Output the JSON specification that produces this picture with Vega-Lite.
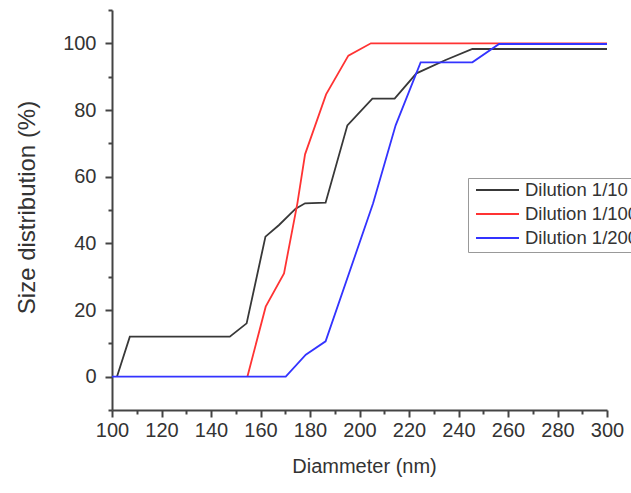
{
  "$schema": "https://vega.github.io/schema/vega-lite/v6.json",
  "width": 495,
  "height": 400,
  "autosize": "none",
  "padding": {"left": 112, "top": 10, "right": 24, "bottom": 83},
  "background": "white",
  "config": {
    "view": {"stroke": null},
    "font": "Liberation Sans",
    "axis": {"grid": false, "domainColor": "#444", "domainWidth": 2, "tickColor": "#444", "tickWidth": 2, "labelColor": "#333", "titleColor": "#333", "labelFont": "Liberation Sans", "titleFont": "Liberation Sans", "titleFontWeight": "normal", "labelFlush": false, "labelOverlap": false}
  },
  "data": {"values": [
    {"d": 102, "p": 0, "s": "Dilution 1/10"},
    {"d": 107.2, "p": 12, "s": "Dilution 1/10"},
    {"d": 147.6, "p": 12, "s": "Dilution 1/10"},
    {"d": 154.4, "p": 16, "s": "Dilution 1/10"},
    {"d": 162, "p": 42, "s": "Dilution 1/10"},
    {"d": 167.5, "p": 45.5, "s": "Dilution 1/10"},
    {"d": 174.2, "p": 50.4, "s": "Dilution 1/10"},
    {"d": 178, "p": 52, "s": "Dilution 1/10"},
    {"d": 186.3, "p": 52.2, "s": "Dilution 1/10"},
    {"d": 195.1, "p": 75.4, "s": "Dilution 1/10"},
    {"d": 205.2, "p": 83.4, "s": "Dilution 1/10"},
    {"d": 214.2, "p": 83.4, "s": "Dilution 1/10"},
    {"d": 223, "p": 91, "s": "Dilution 1/10"},
    {"d": 234.8, "p": 95, "s": "Dilution 1/10"},
    {"d": 245.6, "p": 98.3, "s": "Dilution 1/10"},
    {"d": 300, "p": 98.3, "s": "Dilution 1/10"},
    {"d": 154.7, "p": 0, "s": "Dilution 1/100"},
    {"d": 162.1, "p": 21, "s": "Dilution 1/100"},
    {"d": 169.5, "p": 31, "s": "Dilution 1/100"},
    {"d": 174.9, "p": 52, "s": "Dilution 1/100"},
    {"d": 178, "p": 66.7, "s": "Dilution 1/100"},
    {"d": 186.5, "p": 84.7, "s": "Dilution 1/100"},
    {"d": 195.5, "p": 96.3, "s": "Dilution 1/100"},
    {"d": 204.6, "p": 100, "s": "Dilution 1/100"},
    {"d": 300, "p": 100, "s": "Dilution 1/100"},
    {"d": 100, "p": 0, "s": "Dilution 1/200"},
    {"d": 170.2, "p": 0, "s": "Dilution 1/200"},
    {"d": 178.3, "p": 6.6, "s": "Dilution 1/200"},
    {"d": 186.3, "p": 10.6, "s": "Dilution 1/200"},
    {"d": 205.5, "p": 52, "s": "Dilution 1/200"},
    {"d": 214.6, "p": 75.4, "s": "Dilution 1/200"},
    {"d": 224.7, "p": 94.3, "s": "Dilution 1/200"},
    {"d": 245.6, "p": 94.3, "s": "Dilution 1/200"},
    {"d": 256.4, "p": 99.8, "s": "Dilution 1/200"},
    {"d": 300, "p": 99.8, "s": "Dilution 1/200"}
  ]},
  "mark": {"type": "line", "strokeWidth": 1.8, "clip": false},
  "encoding": {
    "x": {"field": "d", "type": "quantitative",
      "scale": {"domain": [100, 300], "nice": false, "zero": false},
      "axis": {"title": "Diammeter (nm)", "values": [100,110,120,130,140,150,160,170,180,190,200,210,220,230,240,250,260,270,280,290,300],
        "labelExpr": "datum.value % 20 == 0 ? datum.label : ''",
        "tickSize": {"condition": {"test": "datum.value % 20 == 0", "value": 7}, "value": 4},
        "labelFontSize": 20, "titleFontSize": 20, "labelPadding": 3, "titlePadding": 16, "titleX": 252}},
    "y": {"field": "p", "type": "quantitative",
      "scale": {"domain": [-10, 110], "nice": false, "zero": false},
      "axis": {"title": "Size distribution (%)", "values": [-10,0,10,20,30,40,50,60,70,80,90,100,110],
        "labelExpr": "datum.value % 20 == 0 && datum.value >= 0 && datum.value <= 100 ? datum.label : ''",
        "tickSize": {"condition": {"test": "datum.value % 20 == 0 && datum.value >= 0 && datum.value <= 100", "value": 7}, "value": 4},
        "labelFontSize": 20, "titleFontSize": 24, "labelPadding": 9, "titlePadding": 23, "titleY": 197}},
    "color": {"field": "s", "type": "nominal",
      "scale": {"domain": ["Dilution 1/10", "Dilution 1/100", "Dilution 1/200"], "range": ["#383838", "#ff3333", "#3333ff"]},
      "legend": {"title": null, "orient": "none", "legendX": 356, "legendY": 168,
        "symbolType": "stroke", "symbolSize": 1849, "symbolStrokeWidth": 2, "symbolOffset": 3,
        "labelFontSize": 18.5, "labelColor": "#333", "labelFont": "Liberation Sans", "labelOffset": 5,
        "clipHeight": 16, "rowPadding": 5,
        "strokeColor": "#999", "padding": 4, "fillColor": "white"}}
  }
}
